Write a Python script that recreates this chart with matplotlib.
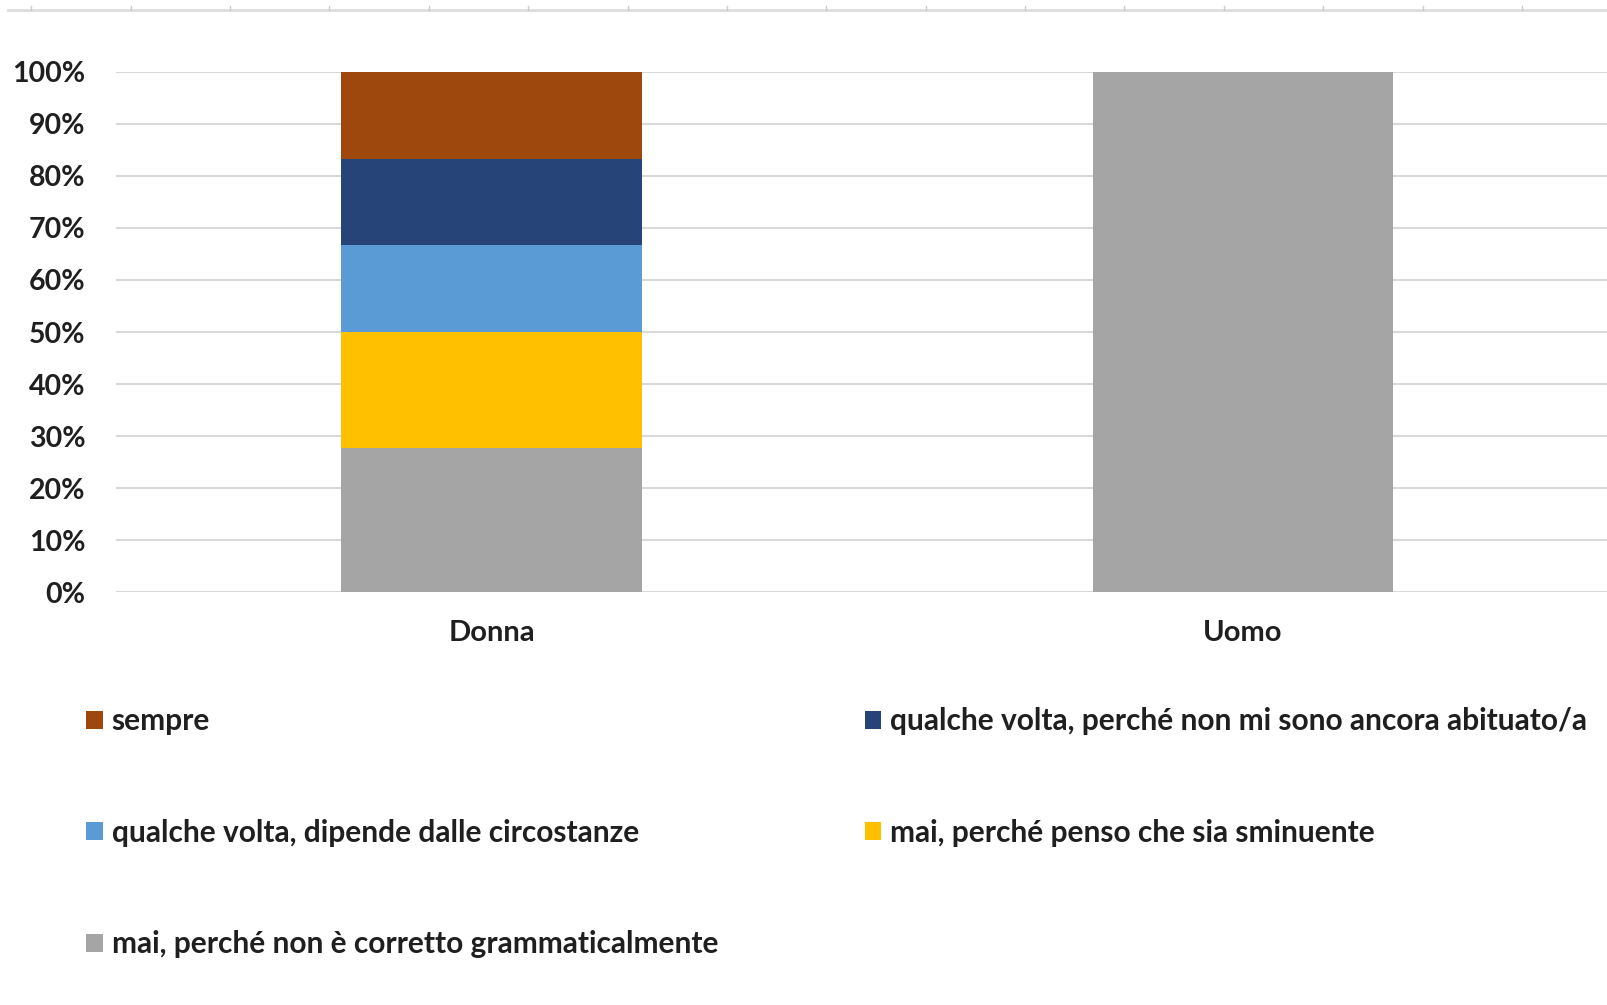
import numpy as np
import matplotlib
matplotlib.use("Agg")
import matplotlib.pyplot as plt
from matplotlib.lines import Line2D

# --- Dati ---
categorie = ["Donna", "Uomo"]
risposte = [
    "mai, perché non è corretto grammaticalmente",
    "mai, perché penso che sia sminuente",
    "qualche volta, dipende dalle circostanze",
    "qualche volta, perché non mi sono ancora abituato/a",
    "sempre",
]
# quota per categoria (dal basso verso l'alto)
valori = {
    "mai, perché non è corretto grammaticalmente": [0.2778, 1.0],
    "mai, perché penso che sia sminuente": [0.2222, 0.0],
    "qualche volta, dipende dalle circostanze": [0.1667, 0.0],
    "qualche volta, perché non mi sono ancora abituato/a": [0.1667, 0.0],
    "sempre": [0.1667, 0.0],
}
colori = {
    "mai, perché non è corretto grammaticalmente": "#A5A5A5",
    "mai, perché penso che sia sminuente": "#FFC000",
    "qualche volta, dipende dalle circostanze": "#5B9BD5",
    "qualche volta, perché non mi sono ancora abituato/a": "#264478",
    "sempre": "#9E480E",
}

plt.rcParams["font.family"] = ["Lato", "DejaVu Sans"]

fig = plt.figure(figsize=(16.08, 10.05), dpi=100)
ax = fig.add_axes([0.0721, 0.4109, 0.9279, 0.5175])

x = np.arange(len(categorie))
base = np.zeros(len(categorie))
barre = {}
for r in risposte:
    v = np.array(valori[r])
    barre[r] = ax.bar(x, v, 0.4, bottom=base, color=colori[r], label=r, zorder=3)
    base += v

ax.set_xlim(-0.5, 1.486)
ax.set_ylim(0, 1)
tick_y = np.arange(0, 1.01, 0.1)
ax.set_yticks(tick_y)
ax.set_yticklabels([f"{int(round(t*100))}%" for t in tick_y],
                   fontsize=20.5, fontweight="bold", color="#1F1F1F")
ax.set_xticks(x)
ax.set_xticklabels(categorie, fontsize=21, fontweight="bold", color="#1F1F1F")
ax.tick_params(axis="both", length=0)
ax.tick_params(axis="y", pad=22)
ax.tick_params(axis="x", pad=20)
ax.yaxis.grid(True, color="#D9D9D9", linewidth=1.5, zorder=0)
for s in ax.spines.values():
    s.set_visible(False)

# linea grigia in alto (resto di un altro grafico)
fig.add_artist(Line2D([0.005, 1.0], [0.990, 0.990], color="#DDDDDD", lw=2))
for xt in np.arange(0.0195, 1.0, 0.0618):
    fig.add_artist(Line2D([xt, xt], [0.990, 0.994], color="#CCCCCC", lw=1))

# legenda: ordine per righe
ordine = ["sempre",
          "qualche volta, dipende dalle circostanze",
          "mai, perché non è corretto grammaticalmente",
          "qualche volta, perché non mi sono ancora abituato/a",
          "mai, perché penso che sia sminuente"]
leg = fig.legend([barre[r] for r in ordine], ordine, ncol=2, loc="upper left",
                 bbox_to_anchor=(0.037, 0.323), frameon=False,
                 prop={"size": 21.5, "weight": "bold"},
                 handlelength=0.55, handleheight=0.55, handletextpad=0.3,
                 labelspacing=2.8, columnspacing=4.9)
for t in leg.get_texts():
    t.set_color("#1F1F1F")

fig.savefig("out.png", dpi=100, facecolor="white")
